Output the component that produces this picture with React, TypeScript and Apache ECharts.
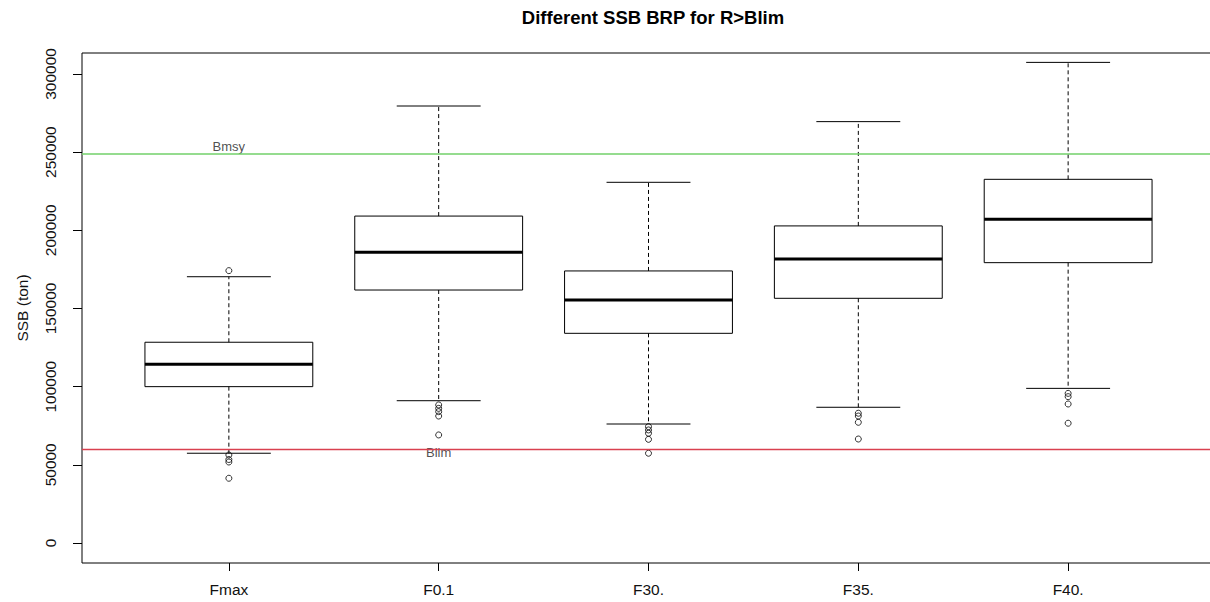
import React, { useEffect, useRef } from "react";
import * as echarts from "echarts";

const categories = ["Fmax", "F0.1", "F30.", "F35.", "F40."];
const whiskerLow = [57400, 91000, 76100, 86800, 98900];
const q1 = [100000, 161800, 134100, 156500, 179300];
const median = [114300, 185900, 155400, 181600, 207000];
const q3 = [128400, 209100, 174000, 202800, 232600];
const whiskerHigh = [170300, 279500, 230700, 269500, 307400];
const outliers = [
  [174200, 56300, 53400, 51800, 41400],
  [88300, 86100, 84000, 81200, 69100],
  [74400, 72300, 70200, 66300, 57400],
  [83000, 81200, 77200, 66500],
  [95700, 93600, 88900, 76600],
];
const yTicks = [0, 50000, 100000, 150000, 200000, 250000, 300000];
const bmsy = 249000;
const blim = 60000;
const refLabels = [
  [1, 253300, "Bmsy"],
  [2, 57600, "Blim"],
];

const FONT = 'Arial, "Liberation Sans", Helvetica, sans-serif';

export default function App() {
  const ref = useRef<HTMLDivElement>(null);
  useEffect(() => {
    if (!ref.current) return;
    const chart = echarts.init(ref.current, null, { renderer: "svg" });
    const positions = categories.map((_, i) => i + 1);
    const boxData = categories.map((_, i) => [
      i + 1,
      whiskerLow[i],
      q1[i],
      median[i],
      q3[i],
      whiskerHigh[i],
    ]);
    const outlierData: number[][] = [];
    outliers.forEach((arr, i) => arr.forEach((v) => outlierData.push([i + 1, v])));

    chart.setOption({
      animation: false,
      textStyle: { fontFamily: FONT },
      title: {
        text: "Different SSB BRP for R>Blim",
        left: 648,
        top: 3,
        textAlign: "center",
        textStyle: { fontSize: 18.5, fontWeight: "bold", color: "#000", fontFamily: FONT },
      },
      grid: {
        left: 82,
        top: 53,
        width: 1133,
        height: 510,
        show: true,
        borderColor: "#000",
        borderWidth: 1,
        backgroundColor: "transparent",
        containLabel: false,
        outerBoundsMode: "none",
      },
      xAxis: {
        type: "value",
        min: 0.3,
        max: 5.7,
        splitLine: { show: false },
        axisLine: { show: false, onZero: false },
        axisTick: { show: true, length: 8, customValues: positions, lineStyle: { color: "#000" } },
        axisLabel: {
          customValues: positions,
          formatter: (v: number) => categories[Math.round(v) - 1] ?? "",
          fontSize: 15.5,
          margin: 18,
          color: "#111",
          fontFamily: FONT,
        },
      },
      yAxis: {
        type: "value",
        min: -12800,
        max: 313400,
        splitLine: { show: false },
        axisLine: { show: false, onZero: false },
        axisTick: { show: true, length: 9, customValues: yTicks, lineStyle: { color: "#000" } },
        axisLabel: {
          customValues: yTicks,
          rotate: 90,
          formatter: (v: number) => String(v),
          fontSize: 15.5,
          margin: 24,
          color: "#111",
          fontFamily: FONT,
        },
        name: "SSB (ton)",
        nameLocation: "middle",
        nameGap: 52,
        nameTextStyle: { fontSize: 15.5, color: "#111", fontFamily: FONT },
      },
      series: [
        {
          type: "custom",
          data: boxData,
          encode: { x: 0, y: [1, 2, 3, 4, 5] },
          z: 2,
          renderItem: (params: any, api: any) => {
            const x = api.value(0);
            const pLow = api.coord([x, api.value(1)]);
            const pQ1 = api.coord([x, api.value(2)]);
            const pMed = api.coord([x, api.value(3)]);
            const pQ3 = api.coord([x, api.value(4)]);
            const pHigh = api.coord([x, api.value(5)]);
            const cx = pMed[0];
            const bw = api.size([0.8, 0])[0];
            const sw = bw / 4;
            const dash = { stroke: "#000", lineWidth: 1, lineDash: [4, 3] };
            const solid = { stroke: "#000", lineWidth: 1 };
            return {
              type: "group",
              children: [
                { type: "line", shape: { x1: cx, y1: pQ3[1], x2: cx, y2: pHigh[1] }, style: dash },
                { type: "line", shape: { x1: cx, y1: pQ1[1], x2: cx, y2: pLow[1] }, style: dash },
                { type: "line", shape: { x1: cx - sw, y1: pHigh[1], x2: cx + sw, y2: pHigh[1] }, style: solid },
                { type: "line", shape: { x1: cx - sw, y1: pLow[1], x2: cx + sw, y2: pLow[1] }, style: solid },
                {
                  type: "rect",
                  shape: { x: cx - bw / 2, y: pQ3[1], width: bw, height: pQ1[1] - pQ3[1] },
                  style: { fill: "none", stroke: "#000", lineWidth: 1 },
                },
                {
                  type: "line",
                  shape: { x1: cx - bw / 2, y1: pMed[1], x2: cx + bw / 2, y2: pMed[1] },
                  style: { stroke: "#000", lineWidth: 3 },
                },
              ],
            };
          },
        },
        {
          type: "scatter",
          data: outlierData,
          symbol: "circle",
          symbolSize: 6,
          z: 3,
          itemStyle: { color: "rgba(255,255,255,0)", borderColor: "#000", borderWidth: 1 },
          markLine: {
            silent: true,
            symbol: ["none", "none"],
            label: { show: false },
            data: [
              { yAxis: bmsy, lineStyle: { color: "#72d06a", width: 1.5, type: "solid" } },
              { yAxis: blim, lineStyle: { color: "#d9404f", width: 1.3, type: "solid" } },
            ],
          },
        },
        {
          type: "scatter",
          data: refLabels,
          symbolSize: 1,
          z: 4,
          itemStyle: { color: "rgba(0,0,0,0)" },
          label: {
            show: true,
            position: "inside",
            formatter: (p: any) => p.value[2],
            fontSize: 13,
            color: "#222",
            fontFamily: FONT,
          },
        },
      ],
    });
    return () => chart.dispose();
  }, []);
  return (
    <div
      ref={ref}
      style={{ position: "fixed", left: 0, top: 0, width: 1210, height: 602, background: "#fff" }}
    />
  );
}
